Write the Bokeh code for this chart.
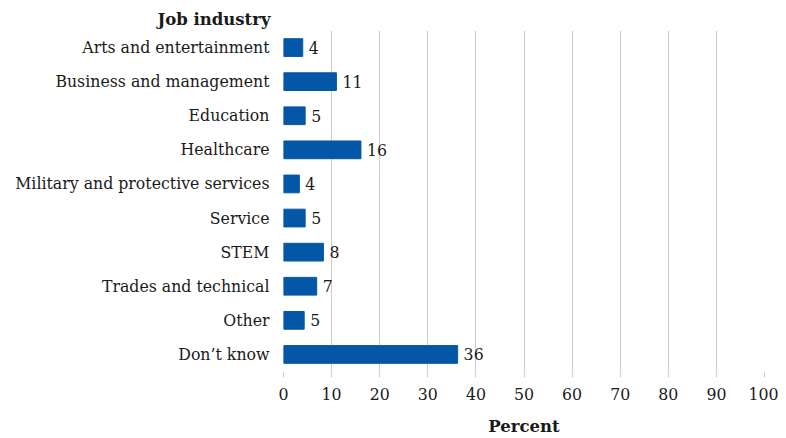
from bokeh.plotting import figure
from bokeh.models import Range1d, FactorRange, Title, FixedTicker, ColumnDataSource
from bokeh.core.properties import value
from bokeh.embed import file_html
from bokeh.resources import INLINE

categories = ["Arts and entertainment", "Business and management", "Education",
              "Healthcare", "Military and protective services", "Service", "STEM",
              "Trades and technical", "Other", "Don\u2019t know"]
values = [4.0, 11.0, 4.5, 16.1, 3.3, 4.5, 8.3, 6.9, 4.3, 36.2]
labels = ["4", "11", "5", "16", "4", "5", "8", "7", "5", "36"]
x_ticks = [0, 10, 20, 30, 40, 50, 60, 70, 80, 90, 100]

FONT = "DejaVu Serif"
BLUE = "#0357a6"
GRID = "#cfcfcf"
TXT = "#1a1a1a"
FS = "15.75px"

FRAME_W = 481
LEFT = 283

src = ColumnDataSource(dict(cat=categories, val=values, lab=labels))

p = figure(width=LEFT + FRAME_W + 14, height=438, output_backend="svg", toolbar_location=None,
           x_range=Range1d(0, 100), y_range=FactorRange(*categories[::-1]),
           min_border_left=LEFT, min_border_right=14, min_border_top=30, min_border_bottom=66)
p.outline_line_color = None
p.background_fill_color = "white"

p.hbar(y="cat", right="val", left=0, height=0.52, color=BLUE, source=src)
p.text(x="val", y="cat", text="lab", source=src, x_offset=6, text_baseline="middle",
       text_align="left", text_font=value(FONT), text_font_size=FS, text_color=TXT)

p.ygrid.grid_line_color = None
p.xgrid.grid_line_color = GRID
p.xgrid.grid_line_width = 1.2
p.xaxis.ticker = FixedTicker(ticks=x_ticks)
p.xaxis.axis_line_color = None
p.xaxis.major_tick_line_color = GRID
p.xaxis.major_tick_line_width = 1.2
p.xaxis.major_tick_out = 6
p.xaxis.major_tick_in = 0
p.xaxis.minor_tick_line_color = None
p.xaxis.major_label_standoff = 10
p.xaxis.major_label_text_font = FONT
p.xaxis.major_label_text_font_size = FS
p.xaxis.major_label_text_color = TXT
p.xaxis.axis_label = "Percent"
p.xaxis.axis_label_text_font = FONT
p.xaxis.axis_label_text_font_size = "16.5px"
p.xaxis.axis_label_text_font_style = "bold"
p.xaxis.axis_label_text_color = TXT
p.xaxis.axis_label_standoff = 14

p.yaxis.axis_line_color = None
p.yaxis.major_tick_line_color = None
p.yaxis.minor_tick_line_color = None
p.yaxis.major_label_standoff = 8
p.yaxis.major_label_text_font = FONT
p.yaxis.major_label_text_font_size = FS
p.yaxis.major_label_text_color = TXT

p.add_layout(Title(text="Job industry", align="right", offset=FRAME_W + 13,
                   vertical_align="bottom", standoff=4,
                   text_font=FONT, text_font_size="16.5px",
                   text_font_style="bold", text_color=TXT), "above")

open("out.html", "w").write(file_html(p, INLINE))
